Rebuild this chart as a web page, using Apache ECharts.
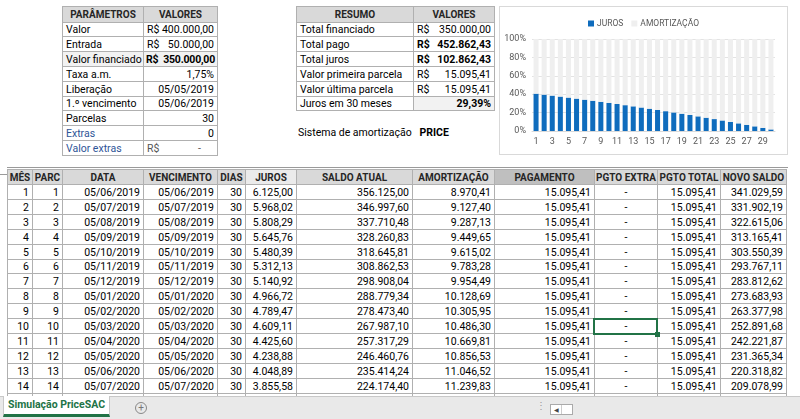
<!DOCTYPE html>
<html>
<head>
<meta charset="utf-8">
<script src="https://cdn.jsdelivr.net/npm/echarts@6/dist/echarts.min.js"></script>
<style>
  body { margin: 0; width: 800px; height: 419px; overflow: hidden; background: #fff;
         font-family: Roboto, 'Liberation Sans', sans-serif; font-size: 10.5px; color: #000; }
  .c { position: absolute; box-sizing: border-box; border: 1px solid #b0b0b0; margin: -1px 0 0 -1px;
       white-space: nowrap; overflow: hidden; line-height: 13px; padding: 0 3px; }
  .h { font-weight: bold; text-align: center; background: #d9d9d9; color: #262626; font-size: 10px; padding: 0 1px; }
  .r { text-align: right; }
  .ln { position: absolute; }
  #chart { position: absolute; left: 499px; top: 6px; width: 289px; height: 149px;
           box-sizing: border-box; border: 1px solid #d9d9d9; }
</style>
</head>
<body>
<div id="sheet"></div>
<div id="chart"></div>
<script>
// parâmetros
var paramLabels = ['Valor', 'Entrada', 'Valor financiado', 'Taxa a.m.', 'Liberação', '1.º vencimento', 'Parcelas', 'Extras', 'Valor extras'];
var paramValues = ['400.000,00', '50.000,00', '350.000,00', '1,75%', '05/05/2019', '05/06/2019', '30', '0', '-'];
var paramCurrency = [true, true, true, false, false, false, false, false, true];

// resumo
var resumoLabels = ['Total financiado', 'Total pago', 'Total juros', 'Valor primeira parcela', 'Valor última parcela', 'Juros em 30 meses'];
var resumoValues = ['350.000,00', '452.862,43', '102.862,43', '15.095,41', '15.095,41', '29,39%'];
var resumoCurrency = [true, true, true, true, true, false];

// tabela de amortização
var headers = ['MÊS', 'PARC', 'DATA', 'VENCIMENTO', 'DIAS', 'JUROS', 'SALDO ATUAL', 'AMORTIZAÇÃO', 'PAGAMENTO', 'PGTO EXTRA', 'PGTO TOTAL', 'NOVO SALDO'];
var meses = [1, 2, 3, 4, 5, 6, 7, 8, 9, 10, 11, 12, 13, 14];
var datas = ['05/06/2019', '05/07/2019', '05/08/2019', '05/09/2019', '05/10/2019', '05/11/2019', '05/12/2019',
             '05/01/2020', '05/02/2020', '05/03/2020', '05/04/2020', '05/05/2020', '05/06/2020', '05/07/2020'];
var dias = [30, 30, 30, 30, 30, 30, 30, 30, 30, 30, 30, 30, 30, 30];
var juros = ['6.125,00', '5.968,02', '5.808,29', '5.645,76', '5.480,39', '5.312,13', '5.140,92', '4.966,72',
             '4.789,47', '4.609,11', '4.425,60', '4.238,88', '4.048,89', '3.855,58'];
var saldoAtual = ['356.125,00', '346.997,60', '337.710,48', '328.260,83', '318.645,81', '308.862,53', '298.908,04', '288.779,34',
                  '278.473,40', '267.987,10', '257.317,29', '246.460,76', '235.414,24', '224.174,40'];
var amortizacao = ['8.970,41', '9.127,40', '9.287,13', '9.449,65', '9.615,02', '9.783,28', '9.954,49', '10.128,69',
                   '10.305,95', '10.486,30', '10.669,81', '10.856,53', '11.046,52', '11.239,83'];
var pagamento = '15.095,41';
var novoSaldo = ['341.029,59', '331.902,19', '322.615,06', '313.165,41', '303.550,39', '293.767,11', '283.812,62', '273.683,93',
                 '263.377,98', '252.891,68', '242.221,87', '231.365,34', '220.318,82', '209.078,99'];

// gráfico (% da parcela)
var parcelas = [];
for (var i = 1; i <= 30; i++) parcelas.push(String(i));
var jurosPct = [40.58, 39.54, 38.48, 37.40, 36.31, 35.19, 34.06, 32.90, 31.73, 30.53, 29.32, 28.08, 26.82, 25.54, 24.24,
                22.91, 21.56, 20.19, 18.79, 17.37, 15.93, 14.46, 12.96, 11.44, 9.89, 8.31, 6.70, 5.07, 3.41, 1.72];
var amortPct = [59.42, 60.46, 61.52, 62.60, 63.69, 64.81, 65.94, 67.10, 68.27, 69.47, 70.68, 71.92, 73.18, 74.46, 75.76,
                77.09, 78.44, 79.81, 81.21, 82.63, 84.07, 85.54, 87.04, 88.56, 90.11, 91.69, 93.30, 94.93, 96.59, 98.28];

var sheet = document.getElementById('sheet');
function cell(x, y, w, h, html, cls, style) {
  var y0 = Math.round(y), y1 = Math.round(y + h);
  var d = document.createElement('div');
  d.className = 'c' + (cls ? ' ' + cls : '');
  d.style.left = (x + 1) + 'px'; d.style.top = (y0 + 1) + 'px';
  d.style.width = (w + 1) + 'px'; d.style.height = (y1 - y0 + 1) + 'px';
  d.style.lineHeight = (y1 - y0) + 'px';
  if (style) d.style.cssText += style;
  d.innerHTML = html;
  sheet.appendChild(d);
  return d;
}
function line(x, y, w, h, color) {
  var d = document.createElement('div');
  d.className = 'ln';
  d.style.cssText = 'left:' + x + 'px;top:' + y + 'px;width:' + w + 'px;height:' + h + 'px;background:' + color;
  sheet.appendChild(d);
}
function money(v, bold) {
  return '<span style="float:left' + (bold ? ';font-weight:bold' : '') + '">R$</span><span' +
    (bold ? ' style="font-weight:bold"' : '') + '>' + v + '</span>';
}

// tabela parâmetros
var rh = 14.8;
cell(62, 6, 81, 15.5, 'PARÂMETROS', 'h');
cell(143, 6, 74, 15.5, 'VALORES', 'h');
paramLabels.forEach(function (lab, i) {
  var y = 21.5 + i * rh;
  var blue = i >= 7 ? 'color:#2f5597;' : '';
  var shade = i === 2 ? 'background:#f2f2f2;' : '';
  cell(62, y, 81, rh, lab, '', blue + shade);
  var v = paramCurrency[i] ? money(paramValues[i], i === 2) : paramValues[i];
  var st = shade + (i === 2 ? 'padding:0 2px;letter-spacing:-0.2px;' : '') + (i === 8 ? 'padding-right:16px;color:#555;' : '');
  cell(143, y, 74, rh, v, 'r', st);
});

// tabela resumo
cell(296, 6, 117, 15.5, 'RESUMO', 'h');
cell(413, 6, 81, 15.5, 'VALORES', 'h');
resumoLabels.forEach(function (lab, i) {
  var y = 21.5 + i * rh;
  cell(296, y, 117, rh, lab, '');
  var bold = i === 1 || i === 2;
  var v = resumoCurrency[i] ? money(resumoValues[i], bold) : resumoValues[i];
  var st = i === 5 ? 'background:#f2f2f2;font-weight:bold;' : '';
  cell(413, y, 81, rh, v, 'r', st);
});
var s = document.createElement('div');
s.style.cssText = 'position:absolute;left:298px;top:126px;';
s.innerHTML = 'Sistema de amortização&nbsp;&nbsp;&nbsp;<b>PRICE</b>';
sheet.appendChild(s);

// linha do painel congelado
line(7, 167, 781, 1, '#9a9a9a');
line(0, 174, 7, 1, '#9a9a9a');

// tabela principal
var cols = [7, 32, 62, 143, 217, 245, 296, 412, 494, 594, 657, 720, 786];
var hy = 169, hh = 15, rowH = 14.9;
headers.forEach(function (t, j) {
  var bg = j === 5 ? 'background:#ebebeb;' : (j === 8 ? 'background:#bfbfbf;' : '');
  cell(cols[j], hy, cols[j + 1] - cols[j], hh, t, 'h', bg);
});
meses.forEach(function (m, i) {
  var y = hy + hh + i * rowH;
  var row = [m, m, datas[i], datas[i], dias[i], juros[i], saldoAtual[i], amortizacao[i], pagamento, '-', pagamento, novoSaldo[i]];
  row.forEach(function (v, j) {
    var st = j === 9 ? 'text-align:center;' : '';
    cell(cols[j], y, cols[j + 1] - cols[j], rowH, v, 'r', st);
  });
});
// linha 15, cortada pela barra de abas
cols.slice(0, -1).forEach(function (x, j) {
  cell(x, hy + hh + 14 * rowH, cols[j + 1] - x, 4, '', '');
});
// célula selecionada
var sy = Math.round(hy + hh + 9 * rowH);
var sel = document.createElement('div');
sel.style.cssText = 'position:absolute;left:593px;top:' + sy + 'px;width:61px;height:13px;border:2px solid #217346;box-sizing:content-box;';
sheet.appendChild(sel);
line(655, sy + 14, 5, 5, '#217346');

// barra de abas
var bar = document.createElement('div');
bar.style.cssText = 'position:absolute;left:0;top:396px;width:800px;height:23px;background:#e9e9e9;border-top:1px solid #c8c8c8;';
sheet.appendChild(bar);
var tab = document.createElement('div');
tab.style.cssText = 'position:absolute;left:3px;top:396px;width:107px;background:#fff;border-bottom:3px solid #217346;' +
  'border-left:1px solid #c8c8c8;border-right:1px solid #c8c8c8;box-sizing:border-box;height:21px;font-weight:bold;color:#217346;' +
  'font-size:10.5px;line-height:18px;text-align:center;';
tab.textContent = 'Simulação PriceSAC';
sheet.appendChild(tab);
var plus = document.createElement('div');
plus.style.cssText = 'position:absolute;left:135px;top:402px;width:10px;height:10px;border:1px solid #888;border-radius:50%;' +
  'color:#777;font-size:10px;line-height:10px;text-align:center;';
plus.textContent = '+';
sheet.appendChild(plus);
var dots = document.createElement('div');
dots.style.cssText = 'position:absolute;left:536px;top:401px;color:#999;font-size:10px;line-height:10px;';
dots.textContent = '⋮';
sheet.appendChild(dots);
var sb = document.createElement('div');
sb.style.cssText = 'position:absolute;left:550px;top:404px;width:23px;height:11px;border:1px solid #aaa;background:#fff;box-sizing:border-box;';
sb.innerHTML = '<div style="position:absolute;left:0;top:0;width:10px;height:9px;border-right:1px solid #ccc;font-size:6px;line-height:9px;text-align:center;color:#444">◀</div>';
sheet.appendChild(sb);

// gráfico
var myChart = echarts.init(document.getElementById('chart'));
var option = {
  animation: false,
  legend: {
    top: 7,
    icon: 'rect',
    itemWidth: 6,
    itemHeight: 6,
    itemGap: 8,
    textStyle: { fontSize: 8.5, color: '#595959', fontFamily: 'Roboto', padding: [0, 0, 0, -2] },
    data: ['JUROS', 'AMORTIZAÇÃO']
  },
  grid: { left: 32, right: 12, top: 32, bottom: 23 },
  xAxis: {
    type: 'category',
    data: parcelas,
    axisTick: { show: false },
    axisLine: { lineStyle: { color: '#d9d9d9' } },
    axisLabel: { interval: 1, fontSize: 9, color: '#595959', fontFamily: 'Roboto', margin: 6 }
  },
  yAxis: {
    type: 'value',
    min: 0,
    max: 100,
    interval: 20,
    axisLabel: { formatter: '{value}%', fontSize: 9, color: '#595959', fontFamily: 'Roboto', margin: 6 },
    splitLine: { lineStyle: { color: '#e3e3e3' } }
  },
  series: [
    {
      name: 'JUROS',
      type: 'bar',
      stack: 'total',
      barWidth: '62%',
      itemStyle: { color: '#0f6cbd' },
      data: jurosPct
    },
    {
      name: 'AMORTIZAÇÃO',
      type: 'bar',
      stack: 'total',
      itemStyle: { color: '#efefef' },
      data: amortPct
    }
  ]
};
option && myChart.setOption(option);
</script>
</body>
</html>
